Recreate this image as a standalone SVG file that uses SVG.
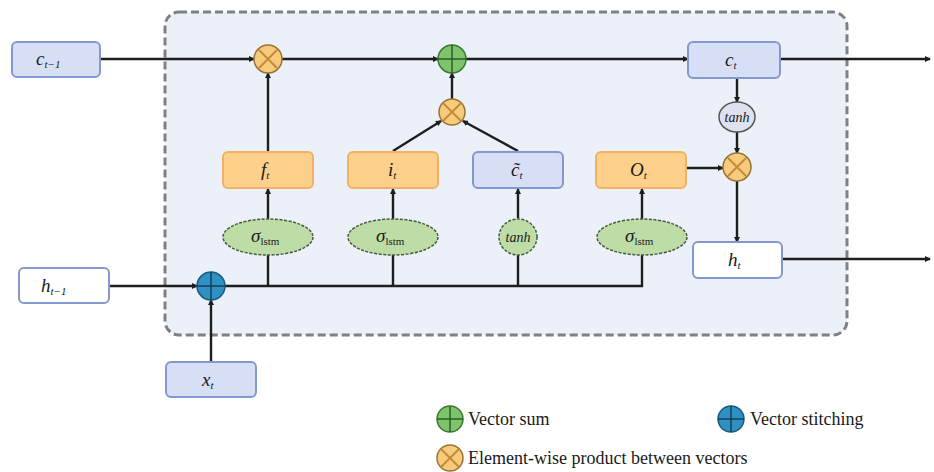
<svg xmlns="http://www.w3.org/2000/svg" width="934" height="472" viewBox="0 0 934 472">
<style>
text{font-family:"Liberation Serif","Times New Roman",serif;fill:#1a1a1a}
.lbl{font-style:italic;font-size:19px}
.sub{font-style:italic;font-size:11px}
.up{font-style:normal}
.blue{fill:#d6dff5;stroke:#8597cf;stroke-width:2}
.org{fill:#fdd08b;stroke:#efb363;stroke-width:2}
.wht{fill:#ffffff;stroke:#8597cf;stroke-width:2}
.grn{fill:#bddca6;stroke:#4a5a40;stroke-width:1.5;stroke-dasharray:3 1.5}
.tanc{fill:#dde1f0;stroke:#555;stroke-width:1.5}
.conn{fill:none;stroke:#1e1e1e;stroke-width:2.4}
.mul{fill:#f6cc7c;stroke:#9c7233;stroke-width:1.5}
.mulx{stroke:#c58a3a;stroke-width:2}
.sum{fill:#7ec46c;stroke:#3b7a30;stroke-width:1.5}
.sumx{stroke:#2c5e24;stroke-width:1.5}
.st{fill:#2f90c2;stroke:#1b5c82;stroke-width:1.5}
.stx{stroke:#153f5a;stroke-width:1.5}
.leg{font-size:18px}
</style>
<defs>
<marker id="ar" markerWidth="6" markerHeight="6" refX="5" refY="3" orient="auto" markerUnits="userSpaceOnUse">
<path d="M0,0 L6,3 L0,6 z" fill="#1e1e1e"/>
</marker>
</defs>
<rect id="cell" x="165" y="12" width="682" height="323" rx="14" fill="#ebf0f9" stroke="#808080" stroke-width="3" stroke-dasharray="8 4"/>
<g id="connectors">
<path class="conn" d="M100,59 H254" marker-end="url(#ar)"/>
<path class="conn" d="M282,59 H438" marker-end="url(#ar)"/>
<path class="conn" d="M466,59 H688" marker-end="url(#ar)"/>
<path class="conn" d="M780,59 H930" marker-end="url(#ar)"/>
<path class="conn" d="M268,151 V73" marker-end="url(#ar)"/>
<path class="conn" d="M452,99 V73" marker-end="url(#ar)"/>
<path class="conn" d="M393,151 L441,121" marker-end="url(#ar)"/>
<path class="conn" d="M518,151 L463,121" marker-end="url(#ar)"/>
<path class="conn" d="M737,78 V102" marker-end="url(#ar)"/>
<path class="conn" d="M737,132 V153" marker-end="url(#ar)"/>
<path class="conn" d="M686,168 H723" marker-end="url(#ar)"/>
<path class="conn" d="M737,181 V242" marker-end="url(#ar)"/>
<path class="conn" d="M782,259 H930" marker-end="url(#ar)"/>
<path class="conn" d="M109,286 H197" marker-end="url(#ar)"/>
<path class="conn" d="M211,362 V300" marker-end="url(#ar)"/>
<path class="conn" d="M225,286 H642 V255"/>
<path class="conn" d="M268,286 V255"/>
<path class="conn" d="M393,286 V255"/>
<path class="conn" d="M518,286 V255"/>
<path class="conn" d="M268,219 V189" marker-end="url(#ar)"/>
<path class="conn" d="M393,219 V189" marker-end="url(#ar)"/>
<path class="conn" d="M518,218 V189" marker-end="url(#ar)"/>
<path class="conn" d="M642,219 V189" marker-end="url(#ar)"/>
</g>
<g id="c_prev"><rect class="blue" x="12" y="42" width="88" height="35" rx="5"/><text class="lbl" x="36" y="65">c<tspan class="sub" dy="3">t−1</tspan></text></g>
<g id="h_prev"><rect class="wht" x="19" y="268" width="90" height="35" rx="5"/><text class="lbl" x="41" y="292">h<tspan class="sub" dy="3">t−1</tspan></text></g>
<g id="x_t"><rect class="blue" x="166" y="362" width="90" height="35" rx="5"/><text class="lbl" x="202" y="386">x<tspan class="sub" dy="3">t</tspan></text></g>
<g id="c_t"><rect class="blue" x="688" y="42" width="92" height="36" rx="5"/><text class="lbl" x="725" y="66">c<tspan class="sub" dy="3">t</tspan></text></g>
<g id="h_t"><rect class="wht" x="693" y="242" width="89" height="36" rx="5"/><text class="lbl" x="728" y="266">h<tspan class="sub" dy="3">t</tspan></text></g>
<g id="f_t"><rect class="org" x="223" y="152" width="90" height="36" rx="5"/><text class="lbl" x="261" y="176">f<tspan class="sub" dy="3">t</tspan></text></g>
<g id="i_t"><rect class="org" x="348" y="152" width="90" height="36" rx="5"/><text class="lbl" x="388" y="176">i<tspan class="sub" dy="3">t</tspan></text></g>
<g id="c_tilde"><rect class="blue" x="473" y="152" width="90" height="36" rx="5"/><text class="lbl" x="511" y="176">c̃<tspan class="sub" dy="3">t</tspan></text></g>
<g id="o_t"><rect class="org" x="596" y="152" width="90" height="36" rx="5"/><text class="lbl" x="630" y="176">O<tspan class="sub" dy="3">t</tspan></text></g>
<g id="sig_f"><ellipse class="grn" cx="268" cy="237" rx="45" ry="18"/><text class="lbl" x="251" y="242">σ<tspan class="sub up" font-size="12" dy="3">lstm</tspan></text></g>
<g id="sig_i"><ellipse class="grn" cx="393" cy="237" rx="45" ry="18"/><text class="lbl" x="376" y="242">σ<tspan class="sub up" font-size="12" dy="3">lstm</tspan></text></g>
<g id="tanh_c"><ellipse class="grn" cx="518" cy="237" rx="19" ry="18"/><text x="518" y="242" text-anchor="middle" font-style="italic" font-size="14">tanh</text></g>
<g id="sig_o"><ellipse class="grn" cx="642" cy="237" rx="45" ry="18"/><text class="lbl" x="625" y="242">σ<tspan class="sub up" font-size="12" dy="3">lstm</tspan></text></g>
<g id="tanh_h"><ellipse class="tanc" cx="737" cy="117" rx="18" ry="15"/><text x="737" y="122" text-anchor="middle" font-style="italic" font-size="14">tanh</text></g>
<g id="mul_f"><circle class="mul" cx="268" cy="59" r="14"/><path class="mulx" d="M259,50 L277,68 M277,50 L259,68"/></g>
<g id="mul_i"><circle class="mul" cx="452" cy="112" r="13"/><path class="mulx" d="M443,103 L461,121 M461,103 L443,121"/></g>
<g id="mul_o"><circle class="mul" cx="737" cy="167" r="14"/><path class="mulx" d="M728,158 L746,176 M746,158 L728,176"/></g>
<g id="sum"><circle class="sum" cx="452" cy="59" r="14"/><path class="sumx" d="M452,45 V73 M438,59 H466"/></g>
<g id="stitch"><circle class="st" cx="211" cy="286" r="14"/><path class="stx" d="M211,272 V300 M197,286 H225"/></g>
<g id="legend">
<circle class="sum" cx="450" cy="419" r="13"/><path class="sumx" d="M450,406 V432 M437,419 H463"/>
<text class="leg" x="468" y="425">Vector sum</text>
<circle class="st" cx="731" cy="419" r="13"/><path class="stx" d="M731,406 V432 M718,419 H744"/>
<text class="leg" x="750" y="425">Vector stitching</text>
<circle class="mul" cx="450" cy="458" r="13"/><path class="mulx" d="M441,449 L459,467 M459,449 L441,467"/>
<text class="leg" x="468" y="464">Element-wise product between vectors</text>
</g>
</svg>
